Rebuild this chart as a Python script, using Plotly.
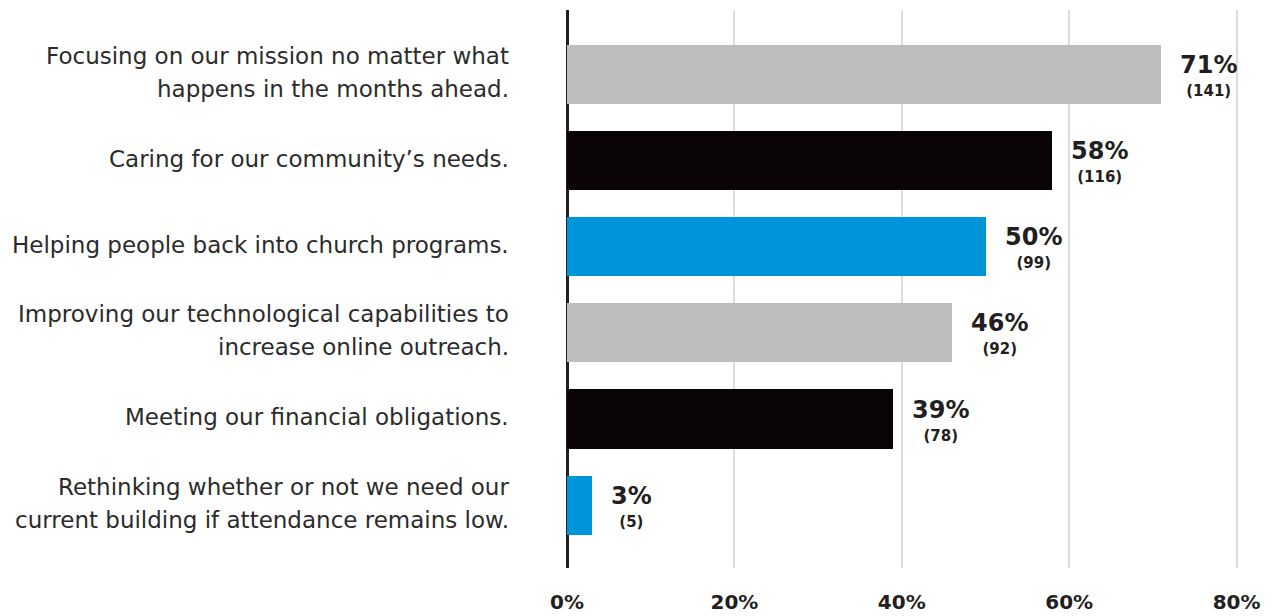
import plotly.graph_objects as go

# Survey responses, top to bottom
categories = [
    "Focusing on our mission no matter what<br>happens in the months ahead.",
    "Caring for our community’s needs.",
    "Helping people back into church programs.",
    "Improving our technological capabilities to<br>increase online outreach.",
    "Meeting our financial obligations.",
    "Rethinking whether or not we need our<br>current building if attendance remains low.",
]
percents = [71, 58, 50, 46, 39, 3]
counts = [141, 116, 99, 92, 78, 5]
bar_colors = ["#BDBEC0", "#0A0405", "#0095D9", "#BDBEC0", "#0A0405", "#0095D9"]
x_ticks = [0, 20, 40, 60, 80]
x_ticklabels = ["0%", "20%", "40%", "60%", "80%"]

positions = list(range(len(categories)))

fig = go.Figure(
    go.Bar(
        x=percents,
        y=positions,
        orientation="h",
        width=0.686,
        marker=dict(color=bar_colors, line=dict(width=0)),
        hoverinfo="skip",
    )
)

annotations = []
# value labels beside each bar: percentage over respondent count
for pos, pct, n in zip(positions, percents, counts):
    annotations.append(dict(
        x=pct, y=pos, xref="x", yref="y",
        xanchor="left", yanchor="middle", xshift=17, yshift=-1,
        align="center", showarrow=False,
        text=(f"<span style='font-size:24px'><b>{pct}%</b></span><br>"
              f"<span style='font-size:15px'><b>({n})</b></span>"),
        font=dict(family="DejaVu Sans", size=18, color="#231F20"),
    ))

# category labels, one annotation per line for custom line spacing
line_gap = 33
for pos, label in zip(positions, categories):
    lines = label.split("<br>")
    k = len(lines)
    for i, line in enumerate(lines):
        offset = ((k - 1) / 2 - i) * line_gap + 2
        annotations.append(dict(
            x=-0.083, y=pos, xref="paper", yref="y",
            xanchor="right", yanchor="middle", yshift=offset,
            showarrow=False, text=line,
            font=dict(family="DejaVu Sans", size=23, color="#2B2B2B"),
        ))

fig.update_layout(
    width=1275, height=616,
    margin=dict(l=567, r=30, t=10, b=48),
    paper_bgcolor="white", plot_bgcolor="white",
    showlegend=False,
    bargap=0,
    annotations=annotations,
    xaxis=dict(
        range=[0, 81],
        tickvals=x_ticks, ticktext=x_ticklabels,
        showgrid=True, gridcolor="#DCDCDC", gridwidth=2,
        zeroline=True, zerolinecolor="#231F20", zerolinewidth=3,
        showline=False, ticks="",
        ticklabelstandoff=20,
        automargin=False,
        tickfont=dict(family="DejaVu Sans", size=20, color="#231F20", weight="bold"),
        fixedrange=True,
    ),
    yaxis=dict(
        range=[5.73, -0.75],
        showticklabels=False, showgrid=False, zeroline=False, ticks="",
        automargin=False,
        fixedrange=True,
    ),
)

fig.write_html("out.html")
